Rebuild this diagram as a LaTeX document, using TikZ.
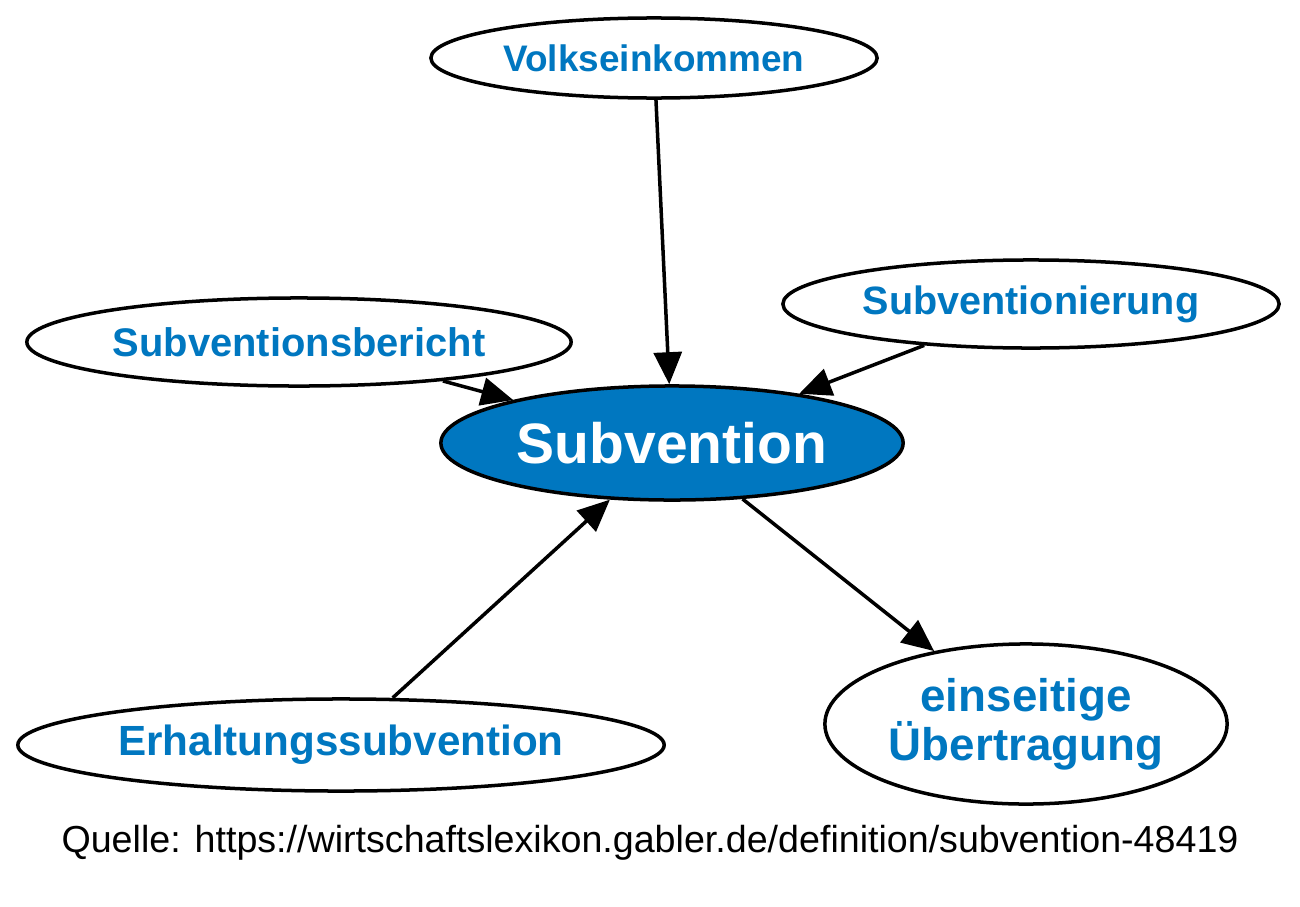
\documentclass[tikz,border=0pt]{standalone}
\usepackage{fontspec}
\setmainfont{Liberation Sans}
\usetikzlibrary{shapes.geometric,arrows.meta}
\definecolor{gblue}{RGB}{0,119,192}
\tikzset{
  ell/.style={ellipse, draw=black, line width=0.035cm, inner sep=0pt, fill=white, text=gblue, align=center},
  arr/.style={line width=0.035cm, -{Triangle[length=0.32cm,width=0.28cm]}},
}
\begin{document}
\begin{tikzpicture}[x=0.01cm,y=-0.01cm]
\useasboundingbox (0,0) rectangle (1300,906);
\node[ell, minimum width=4.46cm, minimum height=0.80cm, font=\fontsize{10.5}{12}\selectfont\bfseries] (volk) at (654,58) {Volkseinkommen};
\node[ell, minimum width=4.96cm, minimum height=0.88cm, font=\fontsize{11.25}{13}\selectfont\bfseries] (sier) at (1031,304) {Subventionierung};
\node[ell, minimum width=5.44cm, minimum height=0.88cm, font=\fontsize{11.35}{13}\selectfont\bfseries] (sber) at (299,342) {Subventionsbericht};
\node[ell, fill=gblue, text=white, minimum width=4.62cm, minimum height=1.14cm, font=\fontsize{16.2}{19}\selectfont\bfseries] (sub) at (672,443) {Subvention};
\node[ell, minimum width=6.46cm, minimum height=0.92cm, font=\fontsize{12}{14}\selectfont\bfseries] (erh) at (341,745) {Erhaltungssubvention};
\node[ell, minimum width=4.02cm, minimum height=1.60cm, font=\fontsize{13}{14}\selectfont\bfseries] (ein) at (1026,724) {einseitige\\Übertragung};
\node[font=\fontsize{10.7}{12}\selectfont, text=black, inner sep=0pt] (src) at (650,843) {Quelle: https://wirtschaftslexikon.gabler.de/definition/subvention-48419};
\draw[arr] (volk) -- (sub);
\draw[arr] (sber) -- (sub);
\draw[arr] (sier) -- (sub);
\draw[arr] (erh) -- (sub);
\draw[arr] (sub) -- (ein);
\end{tikzpicture}
\end{document}
